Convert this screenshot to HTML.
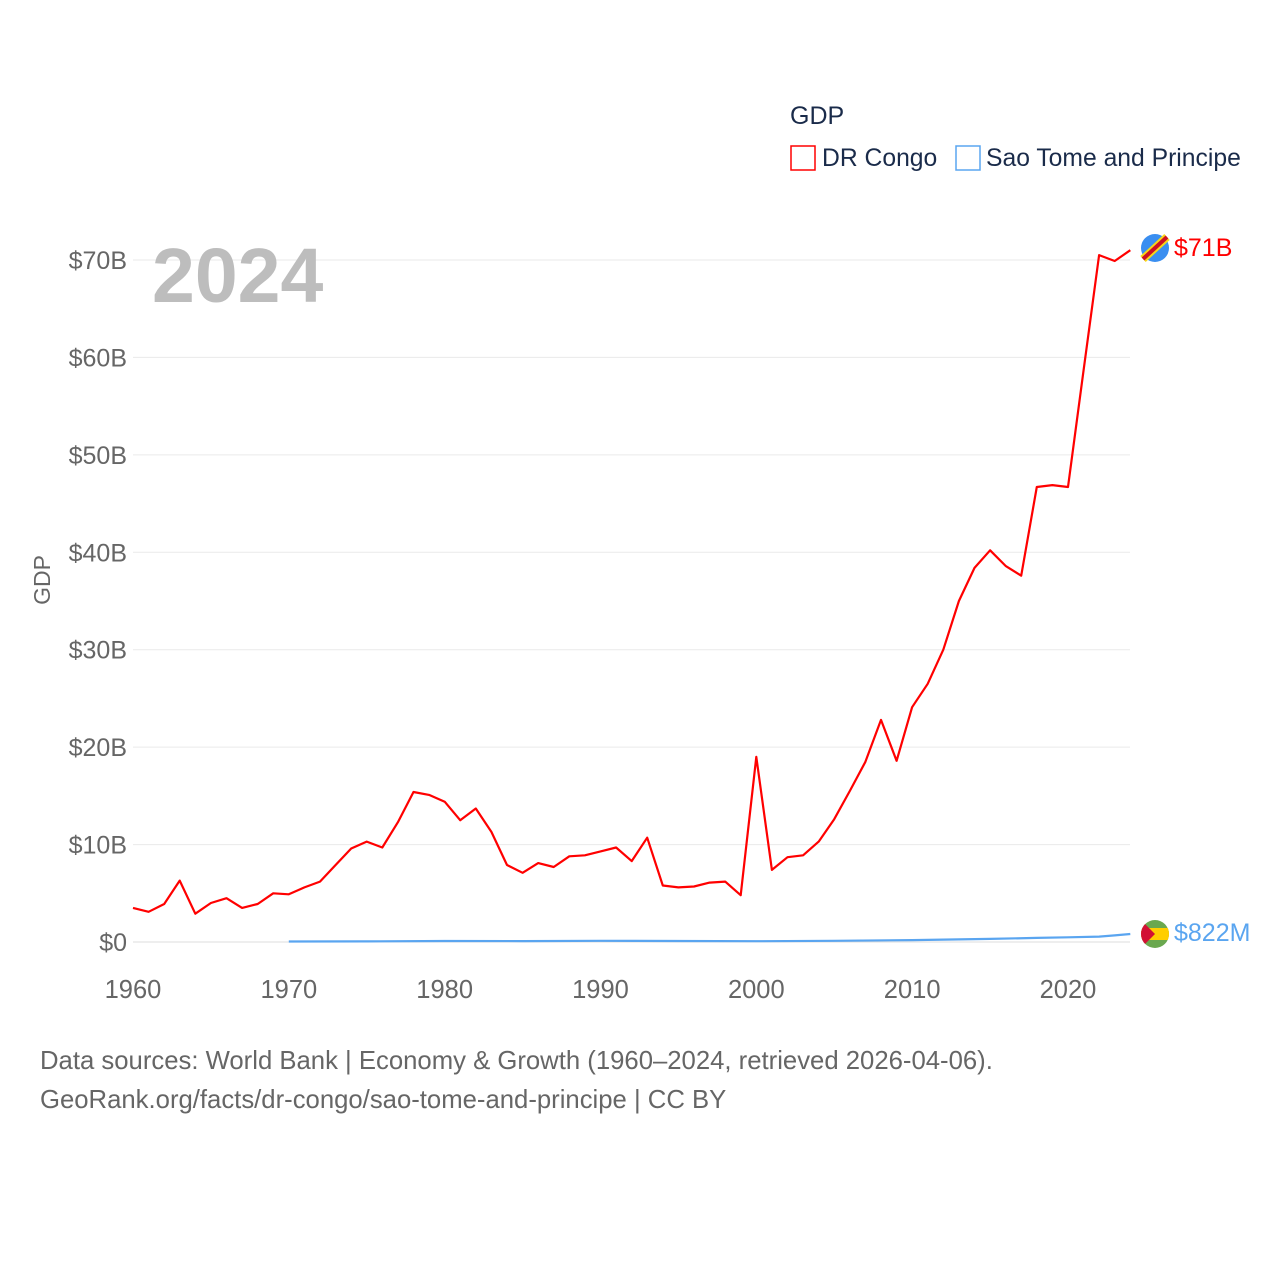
<!DOCTYPE html>
<html><head><meta charset="utf-8"><style>
body{margin:0;background:#fff;}
svg text{font-family:"Liberation Sans",sans-serif;}
</style></head><body>
<svg width="1280" height="1280" viewBox="0 0 1280 1280" xmlns="http://www.w3.org/2000/svg">
<g id="grid"></g>
<g id="yt"></g>
<g id="xt"></g>
<text x="152" y="302" font-size="77" font-weight="bold" fill="#bdbdbd">2024</text>
<text transform="translate(50,580) rotate(-90)" text-anchor="middle" font-size="23" fill="#666">GDP</text>
<text x="790" y="124" font-size="25" fill="#1a2b4a">GDP</text>
<g><rect x="791" y="146" width="24" height="24" fill="none" stroke="#ff0000" stroke-width="1.5"/><text x="822" y="166" font-size="24.7" fill="#1a2b4a">DR Congo</text></g>
<g><rect x="956" y="146" width="24" height="24" fill="none" stroke="#5aa5f0" stroke-width="1.5"/><text x="986" y="166" font-size="24.7" fill="#1a2b4a">Sao Tome and Principe</text></g>
<g id="series"></g>
<g>
<circle cx="1155" cy="248" r="14" fill="#3a8ef0"/>
<line x1="1143" y1="259" x2="1167" y2="237" stroke="#f7d618" stroke-width="8"/>
<line x1="1143" y1="259" x2="1167" y2="237" stroke="#ce1021" stroke-width="4"/>
</g>
<text x="1174" y="256" font-size="25" fill="#ff0000">$71B</text>
<g>
<clipPath id="fc"><circle cx="1155" cy="934" r="14"/></clipPath>
<g clip-path="url(#fc)"><rect x="1140" y="919" width="30" height="30" fill="#6aa84f"/><rect x="1140" y="928" width="30" height="12" fill="#ffce00"/><polygon points="1140,919 1155,934 1140,949" fill="#d21034"/></g>
</g>
<text x="1174" y="941" font-size="25" fill="#5aa5f0">$822M</text>
<text x="40" y="1069" font-size="25.7" fill="#666">Data sources: World Bank | Economy &amp; Growth (1960–2024, retrieved 2026-04-06).</text>
<text x="40" y="1108" font-size="25.7" fill="#666">GeoRank.org/facts/dr-congo/sao-tome-and-principe | CC BY</text>
</svg>
<script>
const yearsCongo=[1960,1961,1962,1963,1964,1965,1966,1967,1968,1969,1970,1971,1972,1973,1974,1975,1976,1977,1978,1979,1980,1981,1982,1983,1984,1985,1986,1987,1988,1989,1990,1991,1992,1993,1994,1995,1996,1997,1998,1999,2000,2001,2002,2003,2004,2005,2006,2007,2008,2009,2010,2011,2012,2013,2014,2015,2016,2017,2018,2019,2020,2021,2022,2023,2024];
const congoGDP=[3.5,3.1,3.9,6.3,2.9,4.0,4.5,3.5,3.9,5.0,4.9,5.6,6.2,7.9,9.6,10.3,9.7,12.3,15.4,15.1,14.4,12.5,13.7,11.3,7.9,7.1,8.1,7.7,8.8,8.9,9.3,9.7,8.3,10.7,5.8,5.6,5.7,6.1,6.2,4.8,19.0,7.4,8.7,8.9,10.3,12.6,15.5,18.5,22.8,18.6,24.1,26.5,30.0,35.0,38.4,40.2,38.6,37.6,46.7,46.9,46.7,58.7,70.5,69.9,71.0];
const yearsSTP=[1970,1975,1980,1985,1990,1995,2000,2005,2010,2015,2018,2020,2022,2023,2024];
const stpGDP=[0.05,0.06,0.1,0.09,0.12,0.1,0.08,0.12,0.2,0.32,0.42,0.48,0.55,0.68,0.822];
const yTicks=[0,10,20,30,40,50,60,70];
const yTickLabels=["$0","$10B","$20B","$30B","$40B","$50B","$60B","$70B"];
const xTicks=[1960,1970,1980,1990,2000,2010,2020];
const NS="http://www.w3.org/2000/svg";
const X=y=>133+(y-1960)*15.583;
const Y=v=>942-v*9.743;
function mk(t,a,p){const e=document.createElementNS(NS,t);for(const k in a)e.setAttribute(k,a[k]);document.getElementById(p).appendChild(e);return e;}
yTicks.forEach((v,i)=>{
 const l=mk('line',{x1:133,x2:1130,y1:Y(v),y2:Y(v),stroke:v===0?'#ddd':'#eaeaea','stroke-width':1},'grid');
 
 
 const t=mk('text',{x:127,y:Y(v)+9,'text-anchor':'end','font-size':25,fill:'#666'},'yt');
 t.textContent=yTickLabels[i];
 
 
});
xTicks.forEach(v=>{
 const t=mk('text',{x:X(v),y:998,'text-anchor':'middle','font-size':25.5,fill:'#666'},'xt');
 t.textContent=v;
 
 
});
function line(xs,vs,col,w,name){
 const d=xs.map((y,i)=>(i?'L':'M')+X(y).toFixed(1)+','+Y(vs[i]).toFixed(1)).join('');
 const p=mk('path',{d:d,fill:'none',stroke:col,'stroke-width':w,'stroke-linejoin':'round'},'series');
 
 
}
line(yearsSTP,stpGDP,'#5aa5f0',2.2,'line-sao-tome');
line(yearsCongo,congoGDP,'#ff0000',2.2,'line-dr-congo');
</script>
</body></html>
